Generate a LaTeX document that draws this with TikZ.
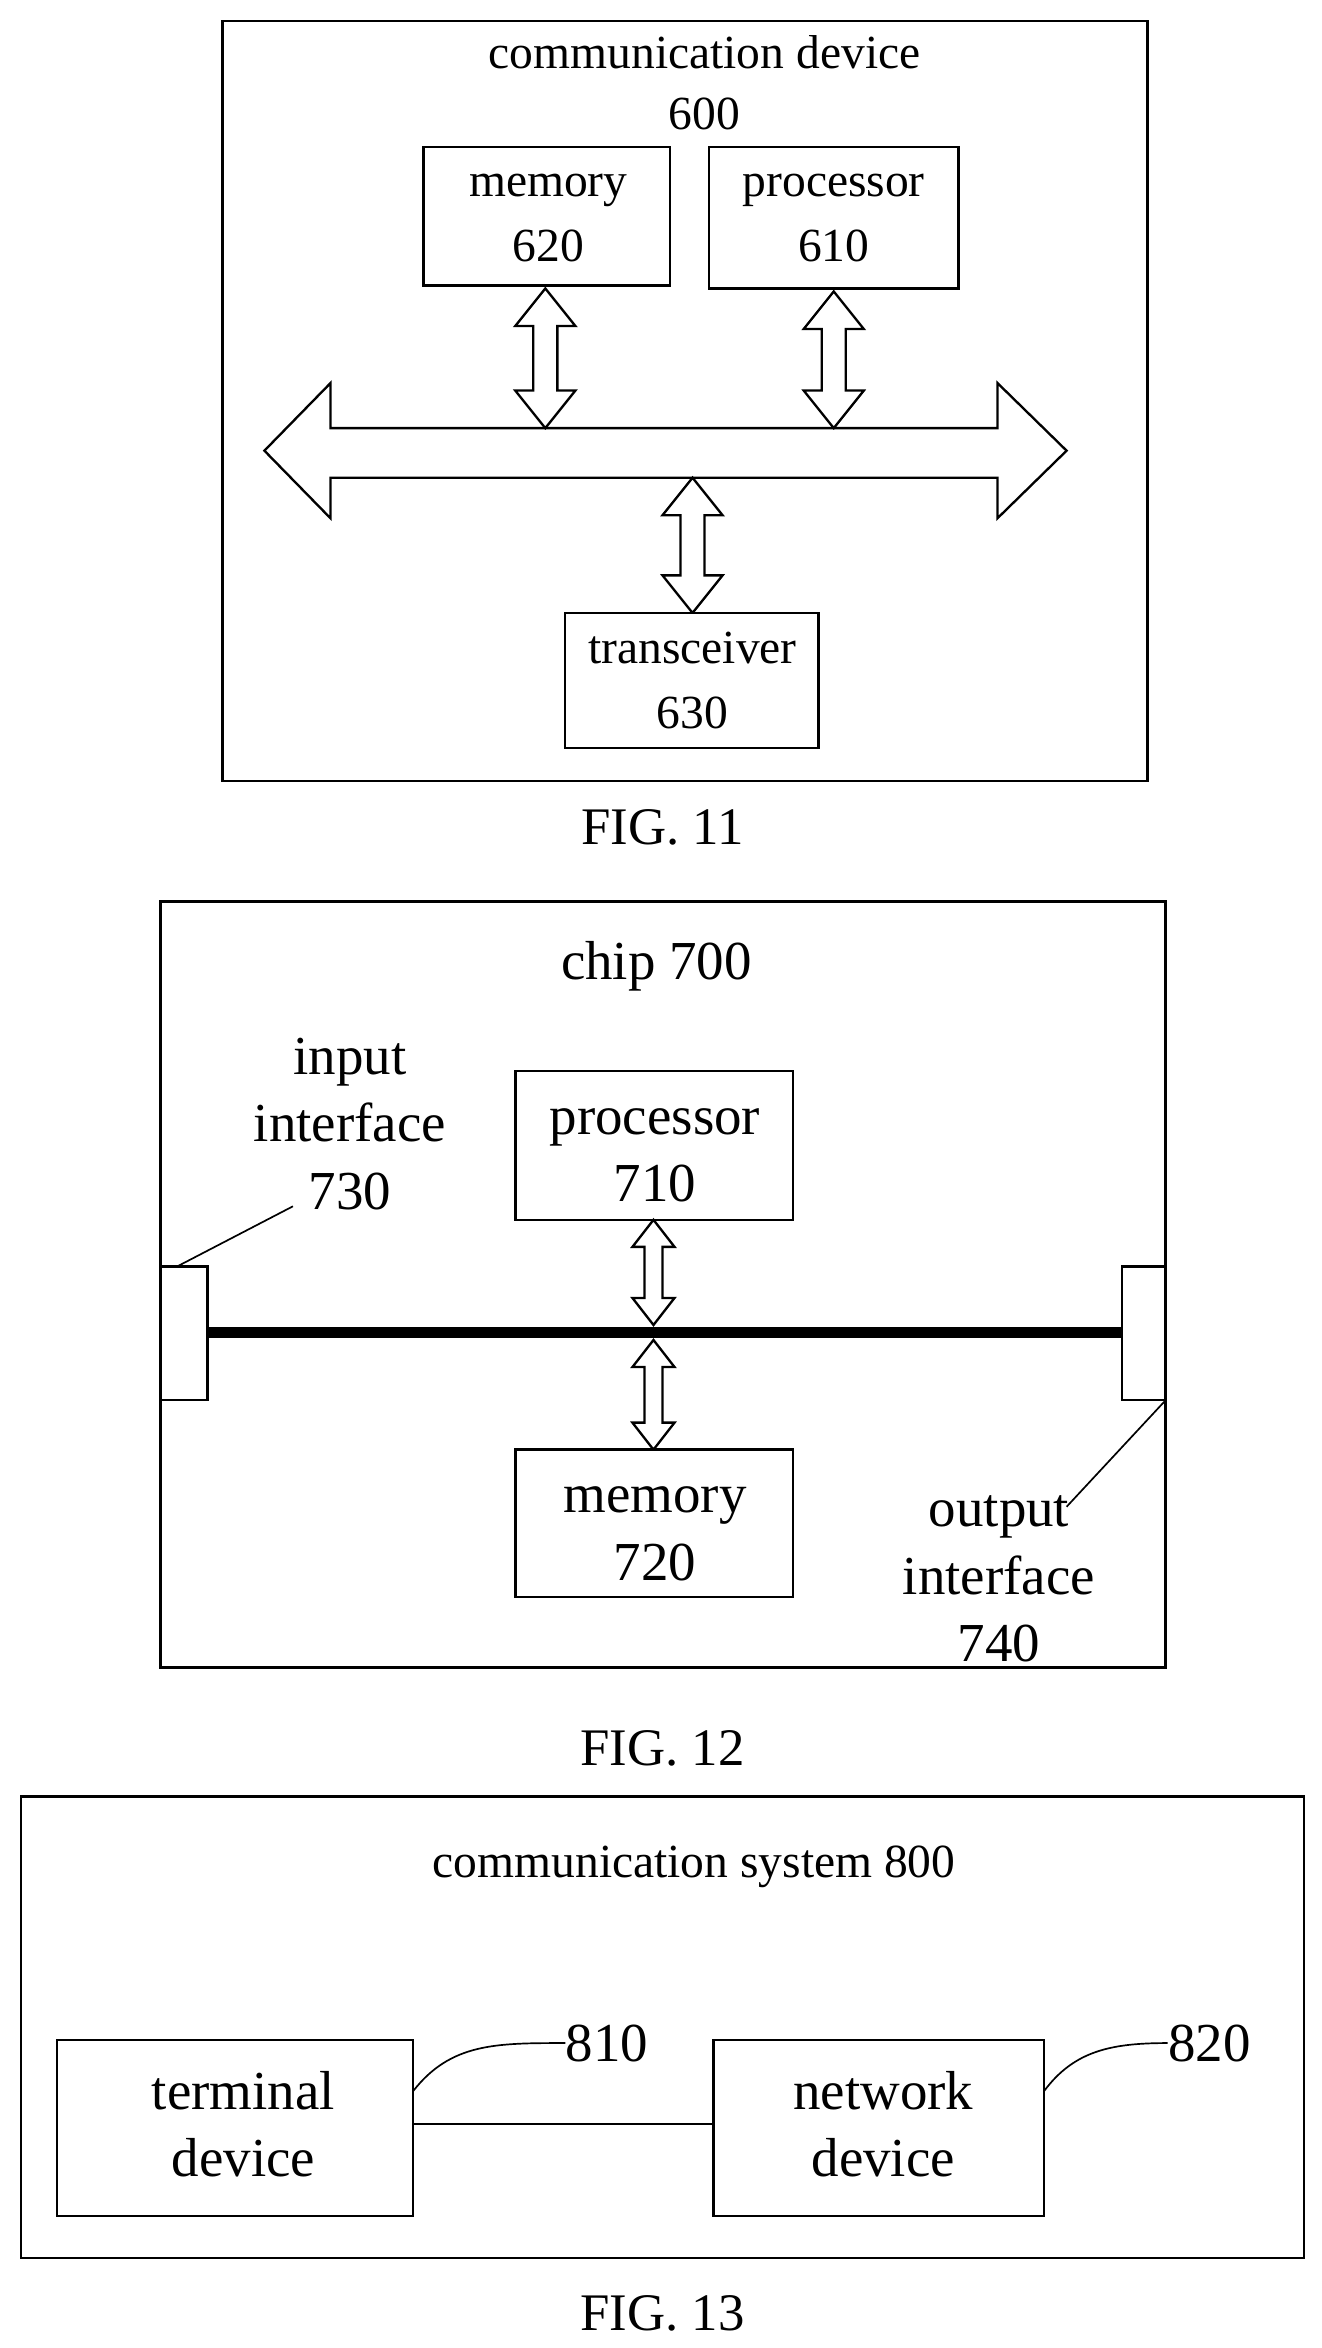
\documentclass[tikz,border=0pt]{standalone}
\usepackage{fontspec}
\setmainfont{Liberation Serif}
\usetikzlibrary{positioning}
% vertical hollow double arrow: x, top y, bottom y, shaft half-width, head half-width, head length
\newcommand\vdarrow[6]{%
  \draw[fat] (#1,#2) -- ({#1+#5},{#2+#6}) -- ({#1+#4},{#2+#6}) -- ({#1+#4},{#3-#6})
    -- ({#1+#5},{#3-#6}) -- (#1,#3) -- ({#1-#5},{#3-#6}) -- ({#1-#4},{#3-#6})
    -- ({#1-#4},{#2+#6}) -- ({#1-#5},{#2+#6}) -- cycle;}
\begin{document}
\begin{tikzpicture}[x=0.025cm, y=-0.025cm,
    box/.style={draw, line width=1.2pt, fill=white},
    fat/.style={draw, line width=1.1pt, fill=white, line join=miter},
    lbl/.style={font=\fontsize{22.5}{25}\selectfont, align=center, inner sep=0pt},
    big/.style={font=\fontsize{26}{30}\selectfont, align=center, inner sep=0pt},
    figcap/.style={font=\fontsize{25}{28}\selectfont, inner sep=0pt}]
    \useasboundingbox (0,0) rectangle (880,1563);

    % FIG. 11
    \draw[box] (148,14) rectangle (764,520);
    \node[lbl] (dev) at (469,55) {communication device\\[4pt]600};
    \draw[box] (282,98) rectangle (446,190);
    \node[lbl] (mem6) at (365,145) {memory\\[6pt]620};
    \draw[box] (472,98) rectangle (638,192);
    \node[lbl] (proc6) at (555,145) {processor\\[6pt]610};
    \draw[fat] (176,300) -- (220,255) -- (220,285) -- (664,285) -- (664,255) -- (710,300)
      -- (664,345) -- (664,318) -- (220,318) -- (220,345) -- cycle;
    \vdarrow{363}{192}{285}{8}{20}{25}
    \vdarrow{555}{194}{285}{8}{20}{25}
    \vdarrow{461}{318}{408}{8}{20}{25}
    \draw[box] (376,408) rectangle (545,498);
    \node[lbl] (trx) at (461,453) {transceiver\\[6pt]630};
    \node[figcap] (fig11) at (441,551) {FIG. 11};

    % FIG. 12
    \draw[box] (107,600) rectangle (776,1110);
    \node[big] (chip) at (437,643) {chip 700};
    \node[big] (inif) at (233,748) {input\\[2pt]interface\\[2pt]730};
    \draw[box] (343,713) rectangle (528,812);
    \node[big] (proc7) at (436,769) {processor\\[2pt]710};
    \draw[line width=5pt] (138,887) -- (747,887);
    \draw[box] (107,843) rectangle (138,932);
    \draw[box] (747,843) rectangle (776,932);
    \draw[line width=0.8pt] (118,843) -- (195,803);
    \draw[line width=0.8pt] (776,932) -- (710,1003);
    \vdarrow{435}{812}{882}{6}{14}{18}
    \vdarrow{435}{892}{965}{6}{14}{18}
    \draw[box] (343,965) rectangle (528,1063);
    \node[big] (mem7) at (436,1021) {memory\\[2pt]720};
    \node[big] (outif) at (665,1051) {output\\[2pt]interface\\[2pt]740};
    \node[figcap] (fig12) at (441,1164) {FIG. 12};

    % FIG. 13
    \draw[box] (14,1196) rectangle (868,1503);
    \node[lbl] (sys) at (462,1243) {communication system 800};
    \draw[box] (38,1358) rectangle (275,1475);
    \node[big] (term) at (162,1414) {terminal\\[2pt]device};
    \draw[box] (475,1358) rectangle (695,1475);
    \node[big] (net) at (588,1414) {network\\[2pt]device};
    \draw[line width=1pt] (term.east -| 275,0) -- (net.west -| 475,0);
    \node[big] (n810) at (404,1360) {810};
    \node[big] (n820) at (805,1360) {820};
    \draw[line width=0.8pt] (275,1392) .. controls (300,1360) and (330,1360) .. (n810.west);
    \draw[line width=0.8pt] (695,1392) .. controls (715,1365) and (740,1360) .. (n820.west);
    \node[figcap] (fig13) at (441,1540) {FIG. 13};
\end{tikzpicture}
\end{document}
